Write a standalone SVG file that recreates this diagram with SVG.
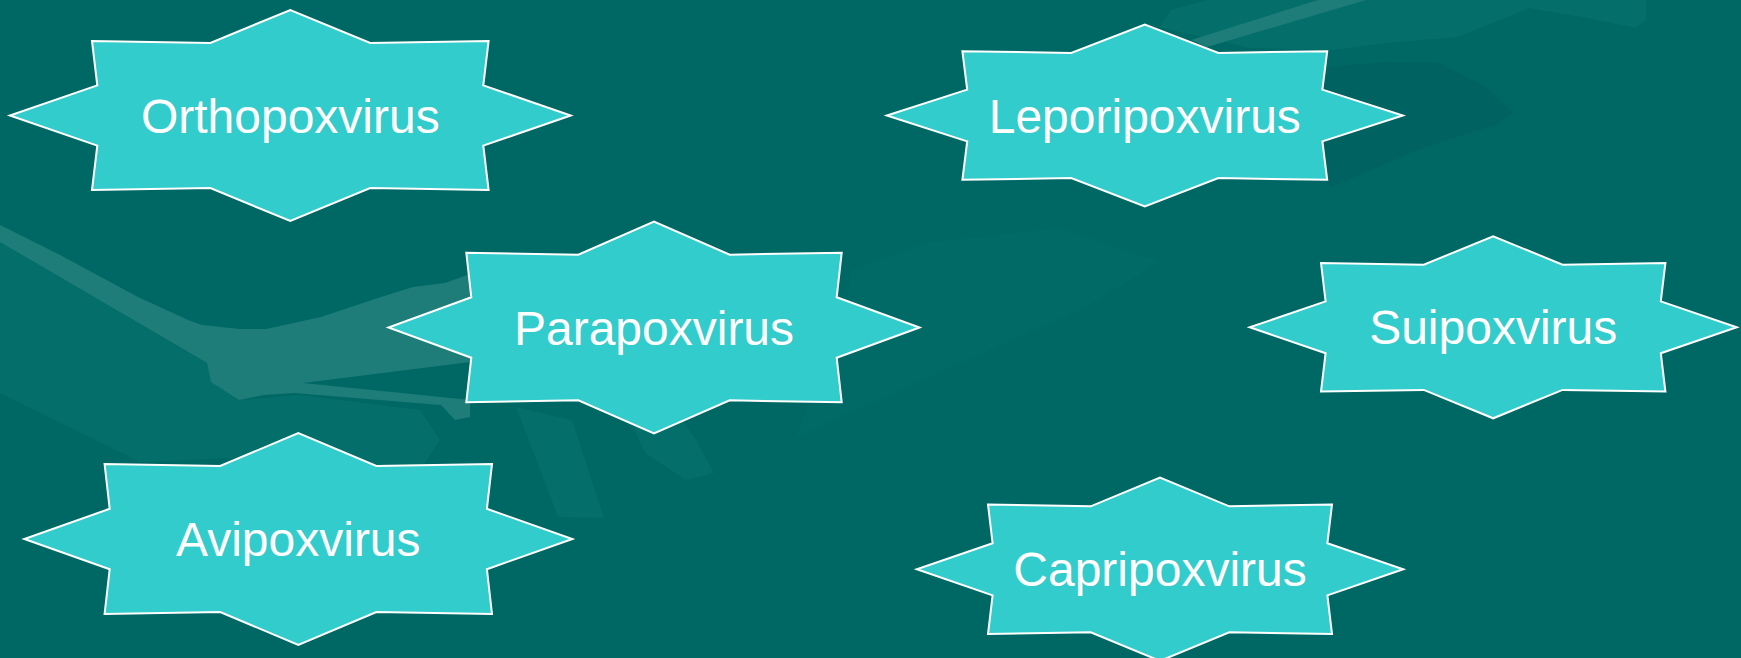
<svg xmlns="http://www.w3.org/2000/svg" width="1741" height="658" viewBox="0 0 1741 658">
<style>
.star{fill:#33CCCC;stroke:#FFFFFF;stroke-width:2;stroke-linejoin:miter}
.label{font-family:"Liberation Sans",Arial,sans-serif;font-size:48px;fill:#FFFFFF;text-anchor:middle}
.bgl{fill:#1E7D78}
.bgs{fill:#036E6A}
.bgd{fill:#006361}
</style>
<g id="background">
<rect x="0" y="0" width="1741" height="658" fill="#006864"/>
<path class="bgs" d="M0,242 L206,363 L212,382 L239,400 L300,395 L420,410 L440,440 L420,470 L300,455 L140,462 L0,393 Z"/>
<path class="bgs" d="M516,407 L549,493 L558,517 L604,518 L572,420 Z"/>
<path class="bgs" d="M627,413 L645,453 L686,480 L714,473 L696,440 L677,413 Z"/>
<path fill="#016A66" d="M796,437 L1086,307 L1160,262 L1060,228 L925,243 L852,270 L840,330 Z"/>
<path class="bgs" d="M1159,27 L1171,10 L1207,0 L1646,0 L1646,20 L1636,28 L1582,17 L1529,8 L1493,23 L1457,37 L1386,43 L1332,50 L1250,48 Z"/>
<path class="bgd" d="M1329,67 L1386,62 L1439,63 L1486,87 L1514,113 L1496,125 L1425,147 L1331,187 L1300,150 Z"/>
<path class="bgl" d="M1191,40 L1318,0 L1366,0 L1207,47 Z"/>
<path class="bgl" d="M0,225 L60,255 L138,297 L188,320 L202,325 L239,329 L266,329 L321,317 L381,297 L413,287 L445,283 L470,274 L470,362 L303,383 L470,400 L470,417 L455,420 L441,405 L294,393 L264,395 L239,400 L211,382 L207,363 L0,242 Z"/>
</g>
<g id="connectors"/>
<g id="node-orthopoxvirus">
<polygon class="star" points="570.7,115.5 483.3,145.6 488.6,190.1 370.2,188.1 290.3,221 210.4,188.1 92,190.1 97.3,145.6 9.9,115.5 97.3,85.4 92,40.9 210.4,42.9 290.3,10 370.2,42.9 488.6,40.9 483.3,85.4"/>
<text class="label" x="290.3" y="132.5">Orthopoxvirus</text>
</g>
<g id="node-parapoxvirus">
<polygon class="star" points="919.5,327.5 836.7,357.7 841.7,402.3 729.7,400.3 654,433.3 578.3,400.3 466.3,402.3 471.3,357.7 388.5,327.5 471.3,297.3 466.3,252.7 578.3,254.7 654,221.7 729.7,254.7 841.7,252.7 836.7,297.3"/>
<text class="label" x="654" y="344.5">Parapoxvirus</text>
</g>
<g id="node-avipoxvirus">
<polygon class="star" points="572.3,539 486.9,569.2 492,614 376.4,612 298.3,645 220.2,612 104.6,614 109.7,569.2 24.3,539 109.7,508.8 104.6,464 220.2,466 298.3,433 376.4,466 492,464 486.9,508.8"/>
<text class="label" x="298.3" y="556">Avipoxvirus</text>
</g>
<g id="node-leporipoxvirus">
<polygon class="star" points="1402.8,115.5 1322.4,141.4 1327.2,179.8 1218.4,178.1 1144.8,206.5 1071.2,178.1 962.4,179.8 967.2,141.4 886.8,115.5 967.2,89.6 962.4,51.2 1071.2,52.9 1144.8,24.5 1218.4,52.9 1327.2,51.2 1322.4,89.6"/>
<text class="label" x="1144.8" y="132.5">Leporipoxvirus</text>
</g>
<g id="node-suipoxvirus">
<polygon class="star" points="1736.7,327.3 1660.8,353.2 1665.4,391.6 1562.6,389.9 1493.2,418.3 1423.8,389.9 1321,391.6 1325.6,353.2 1249.7,327.3 1325.6,301.4 1321,263 1423.8,264.7 1493.2,236.3 1562.6,264.7 1665.4,263 1660.8,301.4"/>
<text class="label" x="1493.2" y="344.3">Suipoxvirus</text>
</g>
<g id="node-capripoxvirus">
<polygon class="star" points="1403.2,569.3 1327.4,595.4 1332,634.1 1229.3,632.3 1160,660.9 1090.7,632.3 988,634.1 992.6,595.4 916.8,569.3 992.6,543.2 988,504.5 1090.7,506.3 1160,477.7 1229.3,506.3 1332,504.5 1327.4,543.2"/>
<text class="label" x="1160" y="586.3">Capripoxvirus</text>
</g>
</svg>
